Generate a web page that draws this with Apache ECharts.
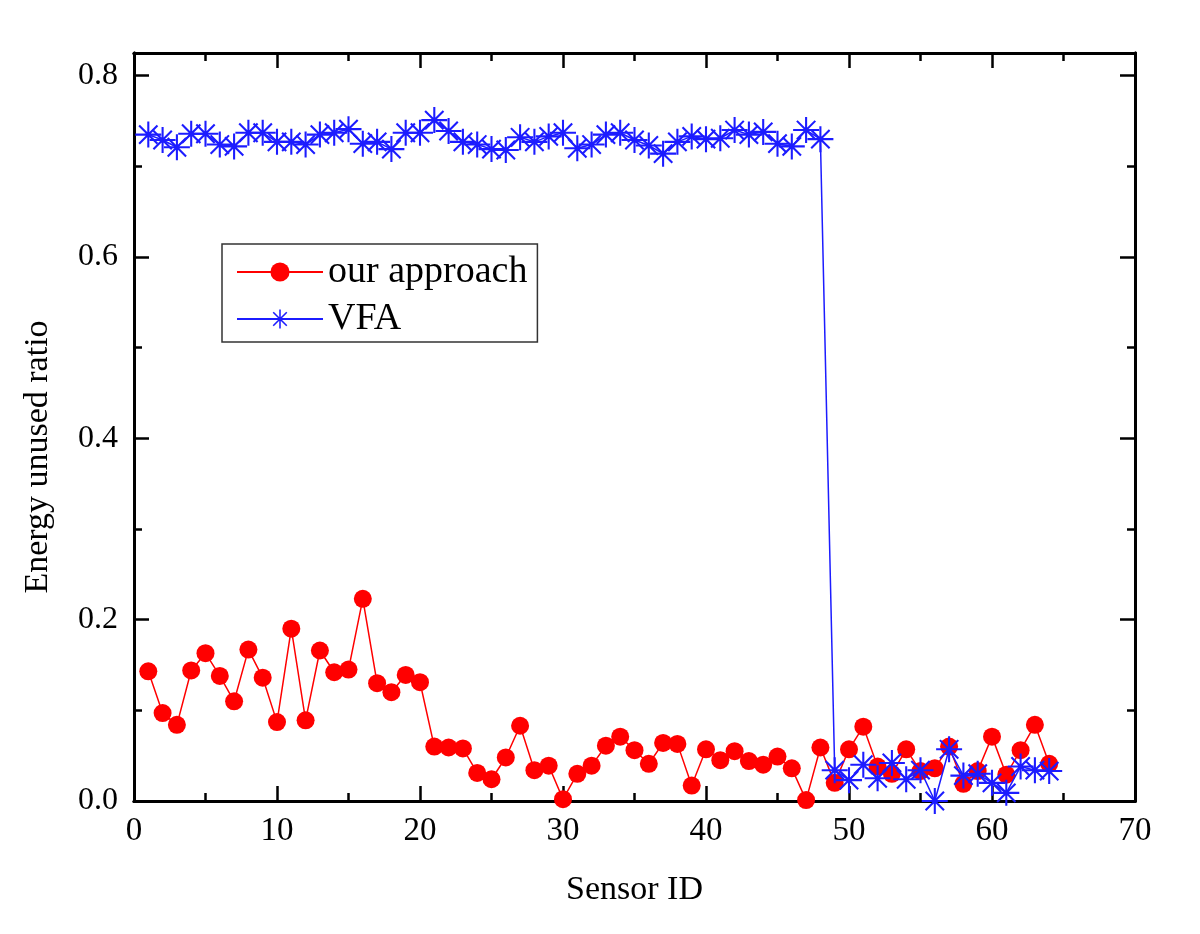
<!DOCTYPE html>
<html><head><meta charset="utf-8">
<script src="https://cdn.jsdelivr.net/npm/echarts@6/dist/echarts.min.js"></script>
<style>html,body{margin:0;padding:0;background:#fff}#c{width:1200px;height:934px}</style>
</head><body><div id="c"></div>
<script>
const sensorIds = Array.from({length:64},(_,i)=>i+1);
const ourApproach = [0.143,0.097,0.084,0.144,0.163,0.138,0.110,0.167,0.136,0.087,
0.190,0.089,0.166,0.142,0.145,0.223,0.130,0.120,0.139,0.131,
0.060,0.059,0.058,0.031,0.024,0.048,0.083,0.034,0.039,0.002,
0.030,0.039,0.061,0.071,0.056,0.041,0.064,0.063,0.017,0.057,
0.045,0.055,0.044,0.040,0.049,0.036,0.001,0.059,0.020,0.057,
0.082,0.038,0.030,0.057,0.033,0.036,0.060,0.019,0.033,0.071,
0.029,0.056,0.084,0.041];
const vfa = [0.735,0.729,0.721,0.736,0.736,0.724,0.722,0.737,0.737,0.727,
0.727,0.724,0.735,0.737,0.741,0.725,0.727,0.719,0.737,0.737,
0.751,0.739,0.727,0.724,0.719,0.718,0.732,0.727,0.733,0.737,
0.720,0.724,0.735,0.737,0.729,0.723,0.714,0.727,0.733,0.730,
0.731,0.740,0.735,0.738,0.725,0.722,0.740,0.730,0.034,0.023,
0.040,0.025,0.042,0.024,0.034,0.000,0.057,0.028,0.030,0.020,
0.009,0.038,0.034,0.033];
const xTicks = {min:0, max:70, major:10, minor:5};
const yTicks = {min:0, max:0.825, major:0.2, minor:0.1};
const FONT = '"Liberation Serif","Times New Roman",serif';
const star = 'path://M-10,-0.8L10,-0.8L10,0.8L-10,0.8Z' +
  'M0.8,-10L0.8,10L-0.8,10L-0.8,-10Z' +
  'M-6.50,-7.64L7.64,6.50L6.50,7.64L-7.64,-6.50Z' +
  'M-7.64,6.50L6.50,-7.64L7.64,-6.50L-6.50,7.64Z';
const BLUE = '#1c1cff', RED = '#ff0000';
const chart = echarts.init(document.getElementById('c'));
const lineS = {show:true,onZero:false,lineStyle:{color:'#000',width:3}};
function tickAxis(type, pos, interval, len, extra){
  const t = type === 'x' ? xTicks : yTicks;
  return Object.assign({
    type:'value', min:t.min, max:t.max, interval:interval, position:pos,
    axisLine:lineS,
    axisTick:{show:true,inside:true,length:len,lineStyle:{color:'#000',width:2.5}},
    axisLabel:{show:false}, splitLine:{show:false}
  }, extra || {});
}
chart.setOption({
  animation:false,
  backgroundColor:'#fff',
  grid:{left:134,right:65,top:53,bottom:133},
  legend:{
    orient:'vertical',left:222,top:244,
    borderColor:'#333',borderWidth:1.5,padding:[8,10,3,14],
    itemGap:7,itemWidth:86,itemHeight:24,
    textStyle:{fontFamily:FONT,fontSize:38,color:'#000',lineHeight:40},
    data:['our approach','VFA']
  },
  xAxis:[
    tickAxis('x','bottom',xTicks.major,15,{
      name:'Sensor ID',nameLocation:'middle',nameGap:72,
      nameTextStyle:{fontFamily:FONT,fontSize:34,color:'#000'},
      axisLabel:{show:true,fontFamily:FONT,fontSize:33,color:'#000',margin:14}}),
    tickAxis('x','bottom',xTicks.minor,8),
    tickAxis('x','top',xTicks.major,15),
    tickAxis('x','top',xTicks.minor,8)
  ],
  yAxis:[
    tickAxis('y','left',yTicks.major,15,{
      name:'Energy unused ratio',nameLocation:'middle',nameGap:79,
      nameTextStyle:{fontFamily:FONT,fontSize:34,color:'#000',padding:[0,60,0,0]},
      axisLabel:{show:true,fontFamily:FONT,fontSize:32,color:'#000',margin:16,
        showMaxLabel:false,formatter:v=>v.toFixed(1)}}),
    tickAxis('y','left',yTicks.minor,8),
    tickAxis('y','right',yTicks.major,15),
    tickAxis('y','right',yTicks.minor,8)
  ],
  series:[
    {name:'our approach',type:'line',xAxisIndex:0,yAxisIndex:0,
      data:sensorIds.map((x,i)=>[x,ourApproach[i]]),
      symbol:'circle',symbolSize:18,
      itemStyle:{color:RED},lineStyle:{color:RED,width:1.5},z:2},
    {name:'VFA',type:'line',xAxisIndex:0,yAxisIndex:0,
      data:sensorIds.map((x,i)=>[x,vfa[i]]),
      symbol:star,symbolSize:26,
      itemStyle:{color:BLUE},
      lineStyle:{color:BLUE,width:1.5},z:3}
  ]
});
</script></body></html>
